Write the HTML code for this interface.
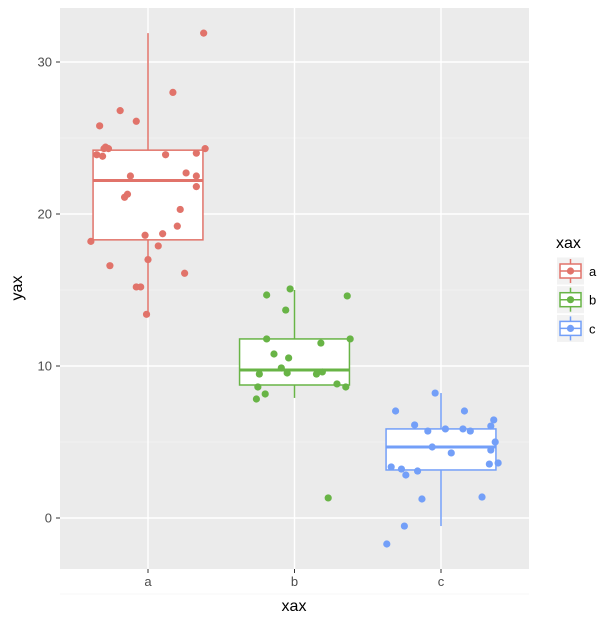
<!DOCTYPE html>
<html><head><meta charset="utf-8"><style>
body{margin:0;background:#fff;}
svg{display:block;font-family:"Liberation Sans",Arial,sans-serif;}
</style></head><body>
<svg id="chart" width="616" height="620">
<rect x="60" y="8" width="469" height="561" fill="#ebebeb"/>
<g id="grid"></g><g id="boxes"></g><g id="points"></g><g id="axes"></g><g id="legend"></g>
</svg>
<script>
const categories = ["a","b","c"];
const colors = ["#e1736a","#68b446","#739ff8"];
const yTicks = [0,10,20,30];
const yMinor = [-5,5,15,25];
// box stats: [lowerWhisker, q1, median, q3, upperWhisker]
const boxA = [13.4,18.3,22.2,24.2,31.9];
const boxB = [7.9,8.75,9.74,11.78,15.0];
const boxC = [-0.53,3.16,4.67,5.86,8.22];
const valuesA = [31.9,28.0,26.8,26.1,25.8,24.4,24.3,24.3,23.8,23.9,24.3,24.0,23.9,22.5,22.7,22.5,21.8,21.3,21.1,20.3,19.2,18.2,18.6,18.7,17.9,17.0,16.6,16.1,15.2,15.2,13.4];
const jitterA = [0.38,0.17,-0.19,-0.08,-0.33,-0.29,-0.30,-0.27,-0.31,-0.35,0.39,0.33,0.12,-0.12,0.26,0.33,0.33,-0.14,-0.16,0.22,0.20,-0.39,-0.02,0.10,0.07,0.0,-0.26,0.25,-0.08,-0.05,-0.01];
const valuesB = [15.07,14.67,14.61,13.68,11.78,11.78,11.51,10.79,10.53,9.87,9.47,9.54,9.47,9.61,8.82,8.62,8.62,8.16,7.83,1.32];
const jitterB = [-0.03,-0.19,0.36,-0.06,-0.19,0.38,0.18,-0.14,-0.04,-0.09,-0.24,-0.05,0.15,0.19,0.29,0.35,-0.25,-0.20,-0.26,0.23];
const valuesC = [8.22,7.04,7.04,6.45,6.05,6.12,5.72,5.86,5.86,5.72,5.0,4.67,4.47,4.28,3.55,3.62,3.36,3.22,2.83,3.09,1.25,1.38,-0.53,-1.71];
const jitterC = [-0.04,-0.31,0.16,0.36,0.34,-0.18,-0.09,0.03,0.15,0.20,0.37,-0.06,0.34,0.07,0.33,0.39,-0.34,-0.27,-0.24,-0.16,-0.13,0.28,-0.25,-0.37];

const NS="http://www.w3.org/2000/svg";
const xPos = i => 148 + i*146.5;
const xU = 146.5;
const yPos = v => 518 - v*15.2;
function mk(parent,tag,attrs){const e=document.createElementNS(NS,tag);for(const k in attrs)e.setAttribute(k,attrs[k]);parent.appendChild(e);return e;}
const grid=document.getElementById('grid'), boxesG=document.getElementById('boxes'), ptsG=document.getElementById('points'), axes=document.getElementById('axes'), leg=document.getElementById('legend');
yMinor.forEach(v=>{const l=mk(grid,'line',{x1:60,x2:529,y1:yPos(v),y2:yPos(v),stroke:'#f5f5f5','stroke-width':0.7});

});
yTicks.forEach(v=>{const l=mk(grid,'line',{x1:60,x2:529,y1:yPos(v),y2:yPos(v),stroke:'#fff','stroke-width':1.4});


mk(axes,'line',{x1:56,x2:60,y1:yPos(v),y2:yPos(v),stroke:'#333','stroke-width':1});
const t=mk(axes,'text',{x:52,y:yPos(v)+4.5,'text-anchor':'end','font-size':13,fill:'#4d4d4d'});t.textContent=v;

});
categories.forEach((c,i)=>{const l=mk(grid,'line',{x1:xPos(i),x2:xPos(i),y1:8,y2:569,stroke:'#fff','stroke-width':1.4});


mk(axes,'line',{x1:xPos(i),x2:xPos(i),y1:569,y2:573,stroke:'#333','stroke-width':1});
const t=mk(axes,'text',{x:xPos(i),y:586,'text-anchor':'middle','font-size':13,fill:'#4d4d4d'});t.textContent=c;

});
const xt=mk(axes,'text',{x:294,y:611,'text-anchor':'middle','font-size':16,fill:'#000'});xt.textContent='xax';


const yt=mk(axes,'text',{x:22,y:288,'text-anchor':'middle','font-size':16,fill:'#000',transform:'rotate(-90 22 288)'});yt.textContent='yax';



const boxes=[boxA,boxB,boxC], vals=[valuesA,valuesB,valuesC], jits=[jitterA,jitterB,jitterC];
boxes.forEach((b,i)=>{const g=mk(boxesG,'g',{stroke:colors[i],fill:'none','stroke-width':1.5});


const x=xPos(i), hw=0.375*xU;
mk(g,'line',{x1:x,x2:x,y1:yPos(b[4]),y2:yPos(b[3])});
mk(g,'line',{x1:x,x2:x,y1:yPos(b[1]),y2:yPos(b[0])});
mk(g,'rect',{x:x-hw,y:yPos(b[3]),width:2*hw,height:yPos(b[1])-yPos(b[3]),fill:'#fff'});
mk(g,'line',{x1:x-hw,x2:x+hw,y1:yPos(b[2]),y2:yPos(b[2]),'stroke-width':3});});
vals.forEach((vs,i)=>vs.forEach((v,j)=>{const c=mk(ptsG,'circle',{cx:xPos(i)+jits[i][j]*xU,cy:yPos(v),r:3.6,fill:colors[i]});

}));

const lt=mk(leg,'text',{x:556,y:248,'font-size':16,fill:'#000'});lt.textContent='xax';


categories.forEach((c,i)=>{const cy=271+i*28.7;const g=mk(leg,'g',{});


mk(g,'rect',{x:557,y:cy-13.5,width:27,height:27,fill:'#f2f2f2'});
mk(g,'line',{x1:570.5,x2:570.5,y1:cy-12,y2:cy+12,stroke:colors[i],'stroke-width':1.5});
mk(g,'rect',{x:560,y:cy-7,width:21,height:14,fill:'#fff',stroke:colors[i],'stroke-width':1.5});
mk(g,'line',{x1:560,x2:581,y1:cy,y2:cy,stroke:colors[i],'stroke-width':1.5});
mk(g,'circle',{cx:570.5,cy:cy,r:3.6,fill:colors[i]});
const t=mk(g,'text',{x:589,y:cy+5,'font-size':13,fill:'#000'});t.textContent=c;});
</script>
</body></html>
